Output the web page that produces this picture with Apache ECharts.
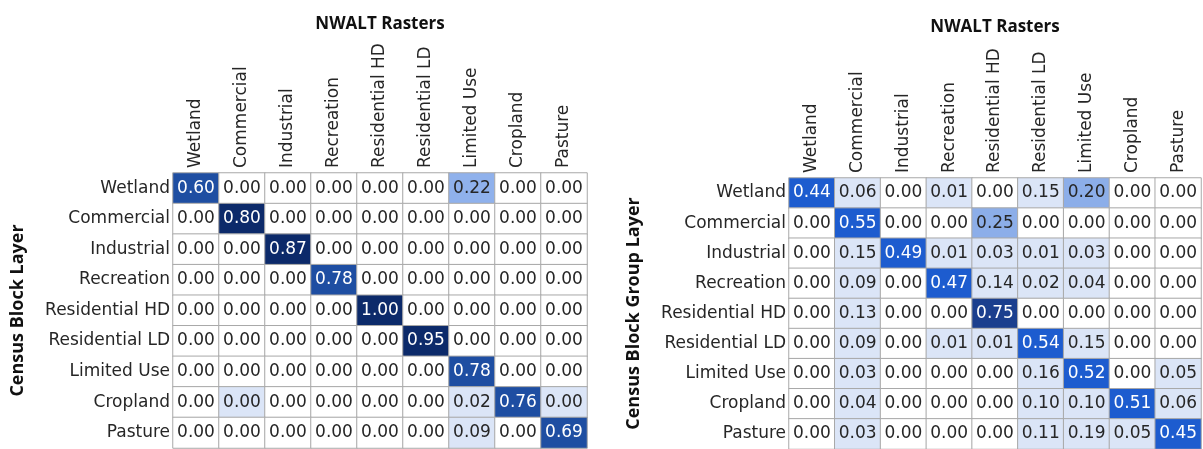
<!DOCTYPE html>
<html>
<head>
<meta charset="utf-8">
<script src="https://cdn.jsdelivr.net/npm/echarts@6/dist/echarts.min.js"></script>
<style>
html,body{margin:0;padding:0;background:#fff;}
#chart{width:1203px;height:449px;}
</style>
</head>
<body>
<div id="chart"></div>
<script>
// Categories (same for rows and columns)
const categories = ['Wetland','Commercial','Industrial','Recreation','Residential HD','Residential LD','Limited Use','Cropland','Pasture'];
const xTitle = 'NWALT Rasters';
const leftYTitle = 'Census Block Layer';
const rightYTitle = 'Census Block Group Layer';

// Left matrix: Census Block Layer (rows) vs NWALT Rasters (cols)
// tiny non-zero values (shown as 0.00 but shaded) estimated as 0.001
const blockRows = [
  [0.60, 0.00, 0.00, 0.00, 0.00, 0.00, 0.22, 0.00, 0.00],
  [0.00, 0.80, 0.00, 0.00, 0.00, 0.00, 0.00, 0.00, 0.00],
  [0.00, 0.00, 0.87, 0.00, 0.00, 0.00, 0.00, 0.00, 0.00],
  [0.00, 0.00, 0.00, 0.78, 0.00, 0.00, 0.00, 0.00, 0.00],
  [0.00, 0.00, 0.00, 0.00, 1.00, 0.00, 0.00, 0.00, 0.00],
  [0.00, 0.00, 0.00, 0.00, 0.00, 0.95, 0.00, 0.00, 0.00],
  [0.00, 0.00, 0.00, 0.00, 0.00, 0.00, 0.78, 0.00, 0.00],
  [0.00, 0.001, 0.00, 0.00, 0.00, 0.00, 0.02, 0.76, 0.001],
  [0.00, 0.00, 0.00, 0.00, 0.00, 0.00, 0.09, 0.00, 0.69]
];

// Right matrix: Census Block Group Layer (rows) vs NWALT Rasters (cols)
const groupRows = [
  [0.44, 0.06, 0.00, 0.01, 0.00, 0.15, 0.20, 0.00, 0.00],
  [0.00, 0.55, 0.00, 0.00, 0.25, 0.00, 0.00, 0.00, 0.00],
  [0.00, 0.15, 0.49, 0.01, 0.03, 0.01, 0.03, 0.00, 0.00],
  [0.00, 0.09, 0.00, 0.47, 0.14, 0.02, 0.04, 0.00, 0.00],
  [0.00, 0.13, 0.00, 0.00, 0.75, 0.00, 0.00, 0.00, 0.00],
  [0.00, 0.09, 0.00, 0.01, 0.01, 0.54, 0.15, 0.00, 0.00],
  [0.00, 0.03, 0.00, 0.00, 0.00, 0.16, 0.52, 0.00, 0.05],
  [0.00, 0.04, 0.00, 0.00, 0.00, 0.10, 0.10, 0.51, 0.06],
  [0.00, 0.03, 0.00, 0.00, 0.00, 0.11, 0.19, 0.05, 0.45]
];

function toCells(rows){
  const out = [];
  rows.forEach((r, yi) => r.forEach((v, xi) => out.push([xi, yi, v])));
  return out;
}

const FONT = 'DejaVu Sans';
const TFONT = 'Open Sans';
const TXT = '#262626';

function xAxisCfg(gi, gap){
  return {
    type: 'category', gridIndex: gi, data: categories, position: 'top',
    name: xTitle, nameLocation: 'middle', nameGap: gap,
    nameTextStyle: {fontFamily: TFONT, fontWeight: 'bold', fontSize: 17, color: '#111'},
    axisLine: {show: false}, axisTick: {show: false},
    axisLabel: {rotate: -90, fontFamily: FONT, fontSize: 17, color: TXT, margin: 5, interval: 0},
    splitArea: {show: false}
  };
}
function yAxisCfg(gi, name, gap){
  return {
    type: 'category', gridIndex: gi, data: categories, inverse: true,
    name: name, nameLocation: 'middle', nameGap: gap, nameRotate: 90,
    nameTextStyle: {fontFamily: TFONT, fontWeight: 'bold', fontSize: 18, color: '#111'},
    axisLine: {show: false}, axisTick: {show: false},
    axisLabel: {fontFamily: FONT, fontSize: 17, color: TXT, margin: 3, interval: 0,
      verticalAlign: 'middle', padding: [6, 0, 0, 0]},
    splitArea: {show: false}
  };
}
function cellLabel(darkFrom){
  return {
    show: true,
    formatter: p => (p.value[2] >= darkFrom ? '{w|' : '{d|') + p.value[2].toFixed(2) + '}',
    rich: {
      w: {color: '#ffffff', fontFamily: FONT, fontSize: 17},
      d: {color: TXT, fontFamily: FONT, fontSize: 17}
    }
  };
}

const option = {
  backgroundColor: '#fff',
  animation: false,
  grid: [
    {left: 173, top: 173, width: 414, height: 275},
    {left: 789, top: 178, width: 412, height: 274.5}
  ],
  xAxis: [xAxisCfg(0, 140), xAxisCfg(1, 142)],
  yAxis: [yAxisCfg(0, leftYTitle, 146), yAxisCfg(1, rightYTitle, 146)],
  visualMap: [
    {type: 'piecewise', show: false, seriesIndex: 0, dimension: 2,
      pieces: [
        {gte: -1, lte: 0.0005, color: '#ffffff'},
        {gt: 0.0005, lte: 0.1, color: '#dbe5f7'},
        {gt: 0.1, lte: 0.4, color: '#8fb1ec'},
        {gt: 0.4, lte: 0.79, color: '#1e4ea2'},
        {gt: 0.79, lte: 2, color: '#0c2a6a'}
      ]},
    {type: 'piecewise', show: false, seriesIndex: 1, dimension: 2,
      pieces: [
        {gte: -1, lte: 0.0005, color: '#ffffff'},
        {gt: 0.0005, lte: 0.195, color: '#dbe5f7'},
        {gt: 0.195, lte: 0.3, color: '#8caee9'},
        {gt: 0.3, lte: 0.6, color: '#1d5ccf'},
        {gt: 0.6, lte: 2, color: '#1b3f8e'}
      ]}
  ],
  series: [
    {type: 'heatmap', xAxisIndex: 0, yAxisIndex: 0, data: toCells(blockRows),
      itemStyle: {borderColor: '#a8a8a8', borderWidth: 1},
      label: cellLabel(0.4), emphasis: {disabled: true}},
    {type: 'heatmap', xAxisIndex: 1, yAxisIndex: 1, data: toCells(groupRows),
      itemStyle: {borderColor: '#a8a8a8', borderWidth: 1},
      label: cellLabel(0.4), emphasis: {disabled: true}}
  ]
};

const chart = echarts.init(document.getElementById('chart'), null, {renderer: 'canvas'});
chart.setOption(option);
</script>
</body>
</html>
